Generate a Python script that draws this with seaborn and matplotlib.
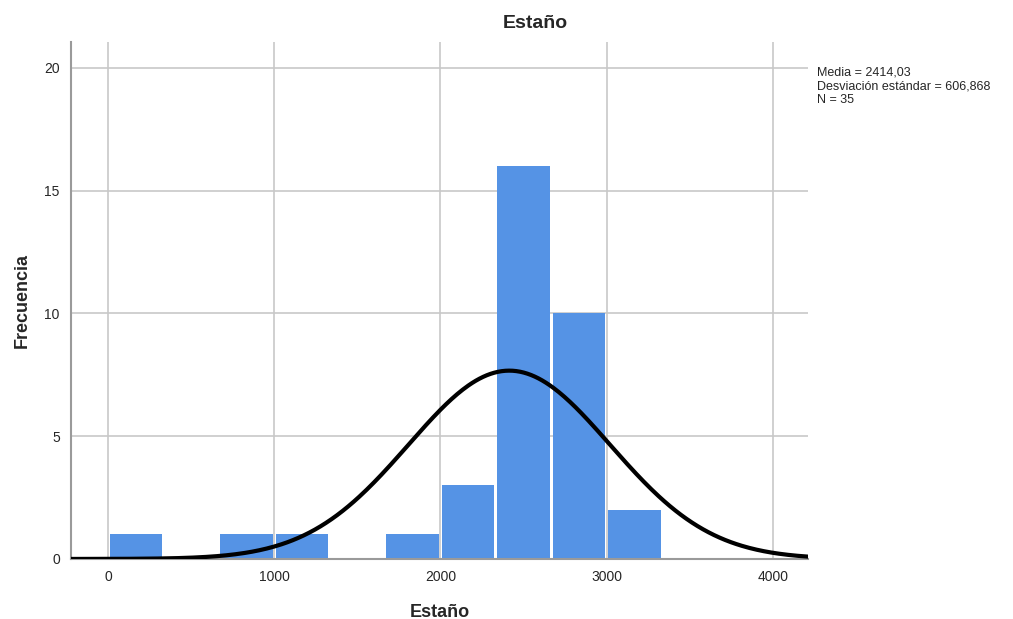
import numpy as np
import pandas as pd
import matplotlib.pyplot as plt
import seaborn as sns

# -----------------------------
# Dati
# -----------------------------
bin_width = 1000 / 3
bin_edges = [i * bin_width for i in range(11)]
bin_counts = [1, 0, 1, 1, 0, 1, 3, 16, 10, 2]
media = 2414.03
dev_std = 606.868
n_obs = 35

df = pd.DataFrame({
    'centro': [e + bin_width / 2 for e in bin_edges[:-1]],
    'conteggio': bin_counts,
})

# -----------------------------
# Figura
# -----------------------------
sns.set_style('white')
plt.rcParams['font.family'] = ['Liberation Sans', 'DejaVu Sans']

fig = plt.figure(figsize=(10.13, 6.19), dpi=100)
ax = fig.add_axes([0.070, 0.097, 0.728, 0.835])

sns.histplot(data=df, x='centro', weights='conteggio', bins=bin_edges,
             color='#5593E5', linewidth=0, shrink=0.95, alpha=1,
             ax=ax, zorder=2)

# curva normale
xmin, xmax = -225, 4215
xs = np.linspace(xmin, xmax, 400)
ys = n_obs * bin_width * np.exp(-0.5 * ((xs - media) / dev_std) ** 2) / (dev_std * np.sqrt(2 * np.pi))
sns.lineplot(x=xs, y=ys, color='black', linewidth=3, ax=ax, zorder=3)

ax.set_xlim(xmin, xmax)
ax.set_ylim(0, 21.05)
ax.set_xticks([0, 1000, 2000, 3000, 4000])
ax.set_yticks([0, 5, 10, 15, 20])
ax.grid(True, color='#c8c8c8', linewidth=1.2, zorder=0)
ax.set_axisbelow(True)

for s in ['top', 'right']:
    ax.spines[s].set_visible(False)
for s in ['left', 'bottom']:
    ax.spines[s].set_color('#9a9a9a')
    ax.spines[s].set_linewidth(1.5)

ax.tick_params(axis='both', length=0, labelsize=10, pad=8)
fig.text(0.528, 0.962, 'Estaño', fontsize=14, fontweight='bold', ha='center', va='center')
ax.set_xlabel('Estaño', fontsize=13, fontweight='bold', labelpad=14)
ax.set_ylabel('Frecuencia', fontsize=13, fontweight='bold', labelpad=10)

fig.text(0.807, 0.892,
         f'Media = 2414,03\nDesviación estándar = 606,868\nN = {n_obs}',
         fontsize=9, va='top', ha='left', linespacing=1.15)

plt.savefig('out.png', dpi=100)
plt.close()
